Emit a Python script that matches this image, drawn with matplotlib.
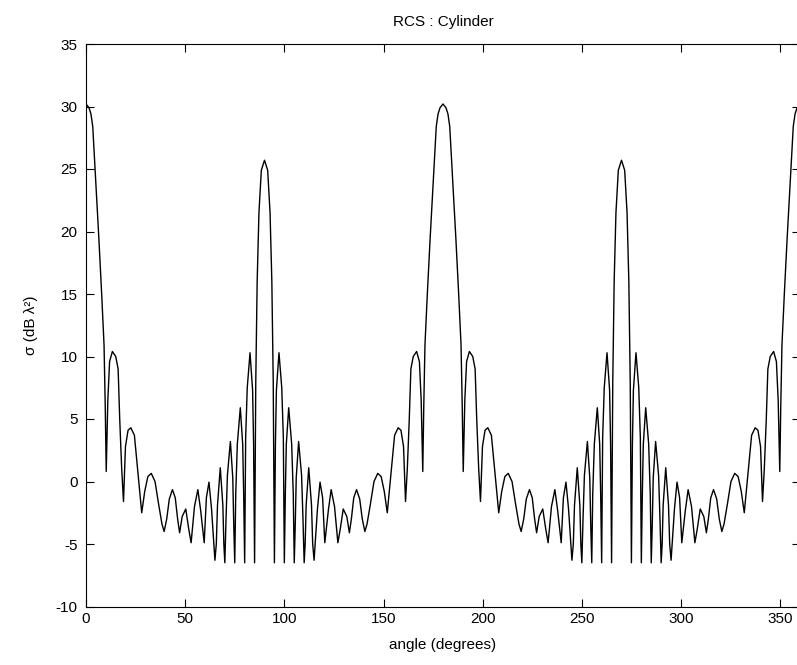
"""
RCS of a cylinder vs aspect angle, redrawn in the old MATLAB look.
"""
import matplotlib
matplotlib.use('Agg')
import matplotlib.pyplot as plt

# values, one list pair per 90 degree quarter
angle_q1 = [0.0, 1.5, 2.5, 3.4, 4.5, 5.5, 6.5, 7.9, 9.1, 9.7,
            10.2, 11.0, 11.9, 13.3, 15.0, 16.2, 17.0, 18.0, 18.9, 19.9,
            21.2, 22.6, 24.4, 26.2, 28.1, 29.6, 31.2, 32.9, 34.8, 36.6,
            38.3, 39.4, 40.7, 42.0, 43.6, 45.0, 46.2, 47.2, 48.5, 50.3,
            51.8, 53.0, 54.7, 56.4, 57.8, 59.6, 60.7, 62.0, 63.3, 65.0,
            65.7, 66.3, 67.7, 69.0, 69.5, 70.0, 70.6, 71.3, 72.8, 74.0,
            74.5, 75.0, 75.5, 76.3, 77.8, 79.0, 79.5, 80.0, 80.5, 81.3,
            82.7, 84.0, 84.5, 85.0, 85.6, 86.3, 87.2, 88.4, 90.0]
rcs_q1 = [30.2, 29.9, 29.4, 28.4, 25.2, 22.3, 19.4, 15.0, 10.9, 6.0,
          0.8, 6.5, 9.6, 10.4, 10.0, 9.0, 5.0, 1.0, -1.6, 2.8,
          4.1, 4.3, 3.7, 0.7, -2.5, -0.8, 0.4, 0.65, 0.0, -1.8,
          -3.4, -4.0, -3.0, -1.4, -0.65, -1.3, -3.0, -4.1, -2.8, -2.2,
          -3.8, -4.9, -2.0, -0.65, -2.3, -4.9, -1.3, -0.05, -2.2, -6.3,
          -5.0, -1.9, 1.1, -1.9, -5.0, -6.5, -3.0, 0.5, 3.2, 0.3,
          -3.5, -6.5, -1.0, 3.0, 5.9, 3.0, -1.0, -6.5, 3.5, 7.5,
          10.3, 7.3, 3.0, -6.5, 8.0, 16.0, 21.5, 24.9, 25.7]

angle_q2 = [91.6, 92.8, 93.7, 94.4, 95.0, 95.5, 96.0, 97.3, 98.7, 99.5,
            100.0, 100.5, 101.0, 102.2, 103.7, 104.5, 105.0, 105.5, 106.0, 107.2,
            108.7, 109.4, 110.0, 110.5, 111.0, 112.3, 113.7, 114.3, 115.0, 116.7,
            118.0, 119.3, 120.4, 122.2, 123.6, 125.3, 127.0, 128.2, 129.7, 131.5,
            132.8, 133.8, 135.0, 136.4, 138.0, 139.3, 140.6, 141.7, 143.4, 145.2,
            147.1, 148.8, 150.4, 151.9, 153.8, 155.6, 157.4, 158.8, 160.1, 161.1,
            162.0, 163.0, 163.8, 165.0, 166.7, 168.1, 169.0, 169.8, 170.3, 170.9,
            172.1, 173.5, 174.5, 175.5, 176.6, 177.5, 178.5, 180.0]
rcs_q2 = [24.9, 21.5, 16.0, 8.0, -6.5, 3.0, 7.3, 10.3, 7.5, 3.5,
          -6.5, -1.0, 3.0, 5.9, 3.0, -1.0, -6.5, -3.5, 0.3, 3.2,
          0.5, -3.0, -6.5, -5.0, -1.9, 1.1, -1.9, -5.0, -6.3, -2.2,
          -0.05, -1.3, -4.9, -2.3, -0.65, -2.0, -4.9, -3.8, -2.2, -2.8,
          -4.1, -3.0, -1.3, -0.65, -1.4, -3.0, -4.0, -3.4, -1.8, 0.0,
          0.65, 0.4, -0.8, -2.5, 0.7, 3.7, 4.3, 4.1, 2.8, -1.6,
          1.0, 5.0, 9.0, 10.0, 10.4, 9.6, 6.5, 0.8, 6.0, 10.9,
          15.0, 19.4, 22.3, 25.2, 28.4, 29.4, 29.9, 30.2]

angle_q3 = [181.5, 182.5, 183.4, 184.5, 185.5, 186.5, 187.9, 189.1, 189.7,
            190.2, 191.0, 191.9, 193.3, 195.0, 196.2, 197.0, 198.0, 198.9, 199.9,
            201.2, 202.6, 204.4, 206.2, 208.1, 209.6, 211.2, 212.9, 214.8, 216.6,
            218.3, 219.4, 220.7, 222.0, 223.6, 225.0, 226.2, 227.2, 228.5, 230.3,
            231.8, 233.0, 234.7, 236.4, 237.8, 239.6, 240.7, 242.0, 243.3, 245.0,
            245.7, 246.3, 247.7, 249.0, 249.5, 250.0, 250.6, 251.3, 252.8, 254.0,
            254.5, 255.0, 255.5, 256.3, 257.8, 259.0, 259.5, 260.0, 260.5, 261.3,
            262.7, 264.0, 264.5, 265.0, 265.6, 266.3, 267.2, 268.4, 270.0]
rcs_q3 = [29.9, 29.4, 28.4, 25.2, 22.3, 19.4, 15.0, 10.9, 6.0,
          0.8, 6.5, 9.6, 10.4, 10.0, 9.0, 5.0, 1.0, -1.6, 2.8,
          4.1, 4.3, 3.7, 0.7, -2.5, -0.8, 0.4, 0.65, 0.0, -1.8,
          -3.4, -4.0, -3.0, -1.4, -0.65, -1.3, -3.0, -4.1, -2.8, -2.2,
          -3.8, -4.9, -2.0, -0.65, -2.3, -4.9, -1.3, -0.05, -2.2, -6.3,
          -5.0, -1.9, 1.1, -1.9, -5.0, -6.5, -3.0, 0.5, 3.2, 0.3,
          -3.5, -6.5, -1.0, 3.0, 5.9, 3.0, -1.0, -6.5, 3.5, 7.5,
          10.3, 7.3, 3.0, -6.5, 8.0, 16.0, 21.5, 24.9, 25.7]

angle_q4 = [271.6, 272.8, 273.7, 274.4, 275.0, 275.5, 276.0, 277.3, 278.7, 279.5,
            280.0, 280.5, 281.0, 282.2, 283.7, 284.5, 285.0, 285.5, 286.0, 287.2,
            288.7, 289.4, 290.0, 290.5, 291.0, 292.3, 293.7, 294.3, 295.0, 296.7,
            298.0, 299.3, 300.4, 302.2, 303.6, 305.3, 307.0, 308.2, 309.7, 311.5,
            312.8, 313.8, 315.0, 316.4, 318.0, 319.3, 320.6, 321.7, 323.4, 325.2,
            327.1, 328.8, 330.4, 331.9, 333.8, 335.6, 337.4, 338.8, 340.1, 341.1,
            342.0, 343.0, 343.8, 345.0, 346.7, 348.1, 349.0, 349.8, 350.3, 350.9,
            352.1, 353.5, 354.5, 355.5, 356.6, 357.5, 358.5, 360.0]
rcs_q4 = [24.9, 21.5, 16.0, 8.0, -6.5, 3.0, 7.3, 10.3, 7.5, 3.5,
          -6.5, -1.0, 3.0, 5.9, 3.0, -1.0, -6.5, -3.5, 0.3, 3.2,
          0.5, -3.0, -6.5, -5.0, -1.9, 1.1, -1.9, -5.0, -6.3, -2.2,
          -0.05, -1.3, -4.9, -2.3, -0.65, -2.0, -4.9, -3.8, -2.2, -2.8,
          -4.1, -3.0, -1.3, -0.65, -1.4, -3.0, -4.0, -3.4, -1.8, 0.0,
          0.65, 0.4, -0.8, -2.5, 0.7, 3.7, 4.3, 4.1, 2.8, -1.6,
          1.0, 5.0, 9.0, 10.0, 10.4, 9.6, 6.5, 0.8, 6.0, 10.9,
          15.0, 19.4, 22.3, 25.2, 28.4, 29.4, 29.9, 30.2]

x_ticks = [0, 50, 100, 150, 200, 250, 300, 350]
y_ticks = [-10, -5, 0, 5, 10, 15, 20, 25, 30, 35]

angle = angle_q1 + angle_q2 + angle_q3 + angle_q4
rcs = rcs_q1 + rcs_q2 + rcs_q3 + rcs_q4

plt.rcParams['font.family'] = ['Liberation Sans', 'DejaVu Sans']
plt.rcParams['axes.unicode_minus'] = False

W, H = 797, 665
fig = plt.figure(figsize=(W / 100, H / 100), dpi=100)
fig.patch.set_facecolor('white')

# axes box: x=0 at px 86, x=360 runs just past the right edge
ax = fig.add_axes([86 / W, (H - 606.5) / H, 714 / W, 562.5 / H])
ax.plot(angle, rcs, color='black', lw=1.0)

ax.set_xlim(0, 360)
ax.set_ylim(-10, 35)
ax.set_xticks(x_ticks)
ax.set_yticks(y_ticks)
ax.tick_params(direction='in', top=True, right=True, length=6, width=0.8,
               labelsize=11, colors='black')
ax.tick_params(axis='x', pad=4)
ax.tick_params(axis='y', pad=6)
for s in ax.spines.values():
    s.set_linewidth(0.8)
    s.set_color('black')

fig.text(443 / W, 1 - 22 / H, 'RCS : Cylinder', ha='center', va='center',
         fontsize=11)
fig.text(443 / W, 1 - 645 / H, 'angle (degrees)', ha='center', va='center',
         fontsize=11)
fig.text(31 / W, 1 - 325 / H, 'σ (dB λ²)', ha='center', va='center',
         rotation=90, fontsize=11)

plt.savefig('out.png', dpi=100, facecolor='white')
plt.close(fig)
